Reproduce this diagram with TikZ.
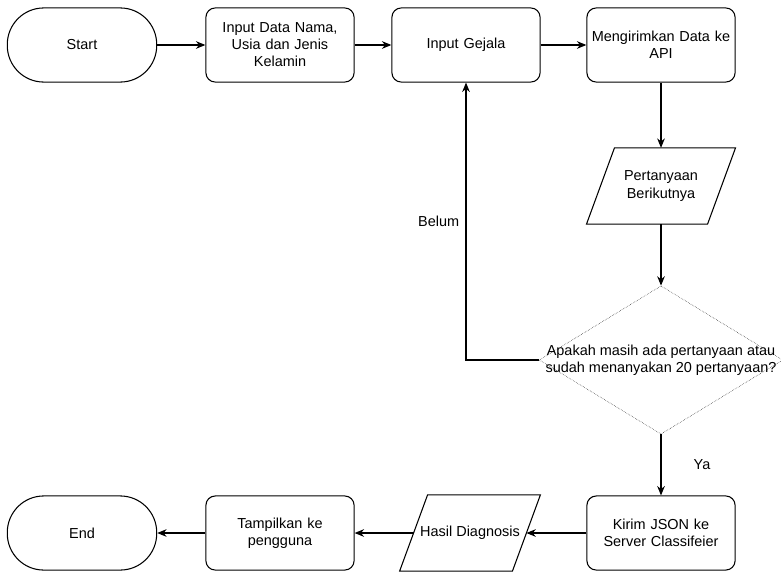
\documentclass[tikz,border=0pt]{standalone}
\usepackage{fontspec}
\setmainfont{Liberation Sans}
\usepackage{tikz}
\usetikzlibrary{shapes,shapes.geometric,arrows.meta,calc,positioning}
\tikzset{>=latex}

\tikzset{
  terminal/.style={draw, rounded corners=31pt, minimum width=127pt, minimum height=63pt, align=center},
  process/.style={draw, rounded corners=8pt, minimum width=126pt, minimum height=63pt, align=center, text width=118pt},
  io/.style={minimum height=64pt, inner sep=0pt, align=center},
  decision/.style={draw, densely dotted, thin, diamond, minimum width=207pt, minimum height=126pt, inner sep=0pt},
  flow/.style={-{Stealth[length=8pt, width=6.5pt]}, line width=0.9pt},
}

\begin{document}
\begin{tikzpicture}[x=0.85pt, y=-0.85pt, font=\fontsize{12.3}{14.5}\selectfont, line width=0.9pt]
          \useasboundingbox (0,0) rectangle (781,571);
          \def\slant{14}

          % top row
          \node[terminal] (start) at (82,45) {Start};
          \node[process] (data) at (280,45) {Input Data Nama,\\ Usia dan Jenis\\ Kelamin};
          \node[process] (gejala) at (466,45) {Input Gejala};
          \node[process] (kirimapi) at (661,45) {Mengirimkan Data ke\\ API};

          % right column
          \node[io, minimum width=102pt] (tanya) at (661,186) {Pertanyaan\\ Berikutnya};
          \node[decision, label={[align=center]center:Apakah masih ada pertanyaan atau\\ sudah menanyakan 20 pertanyaan?}] (cek) at (661,360) {};

          % bottom row
          \node[process] (kirimjson) at (661,533) {Kirim JSON ke\\ Server Classifeier};
          \node[io, minimum width=95pt] (hasil) at (470,533) {Hasil Diagnosis};
          \node[process] (tampil) at (280,533) {Tampilkan ke\\ pengguna};
          \node[terminal] (end) at (82,533) {End};

          % parallelogram outlines
          \foreach \n in {tanya,hasil}
            \draw ($(\n.south west)+(-\slant,0)$) -- ($(\n.north west)+(\slant,0)$)
                  -- ($(\n.north east)+(\slant,0)$) -- ($(\n.south east)+(-\slant,0)$) -- cycle;

          \draw[flow] (start) -- (data);
          \draw[flow] (data) -- (gejala);
          \draw[flow] (gejala) -- (kirimapi);
          \draw[flow] (kirimapi) -- (tanya);
          \draw[flow] (tanya) -- (cek);
          \draw[flow] (cek.west) -| (gejala.south) node[pos=0.75, left=2pt] {Belum};
          \draw[flow] (cek) -- (kirimjson) node[midway, right=24pt] {Ya};
          \draw[flow] (kirimjson) -- (hasil);
          \draw[flow] (hasil) -- (tampil);
          \draw[flow] (tampil) -- (end);
\end{tikzpicture}
\end{document}
